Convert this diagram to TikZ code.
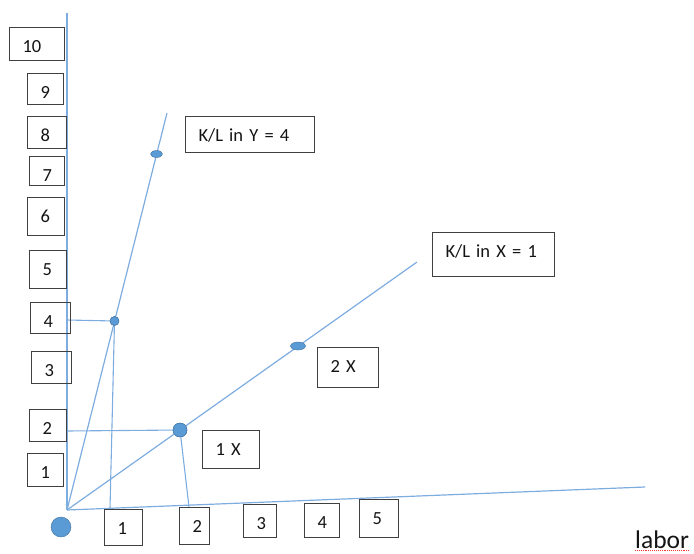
\documentclass[tikz,border=0pt]{standalone}
\usepackage{fontspec}
\setmainfont{Carlito}
\usetikzlibrary{shapes.geometric}
\definecolor{rayblue}{RGB}{125,172,224}
\definecolor{dotblue}{RGB}{91,155,213}
\definecolor{dotedge}{RGB}{65,113,156}
\definecolor{boxgray}{RGB}{64,64,64}
\tikzset{
  ray/.style={draw=rayblue, line width=1.2pt},
  guide/.style={draw=rayblue, line width=1.1pt},
  tbox/.style={draw=boxgray, line width=1.1pt, anchor=north west,
    inner xsep=13pt, inner ysep=0pt, text height=25pt, align=left,
    font=\fontsize{18.5}{22}\selectfont, text=black!92},
  dotc/.style={circle, fill=dotblue, draw=dotedge, line width=0.4pt, inner sep=0pt},
  dote/.style={ellipse, fill=dotblue, draw=dotedge, line width=0.4pt, inner sep=0pt},
}
\begin{document}
\begin{tikzpicture}[x=1pt, y=-1pt]
\useasboundingbox (0,0) rectangle (694,554);

% axes and rays
\coordinate (O) at (67,510);
\coordinate (ytop) at (67,13);
\coordinate (xend) at (645,487);
\coordinate (yray) at (167,113);
\coordinate (xray) at (417,262);
\draw[ray] (ytop) -- (O);
\draw[ray] (O) -- (xend);
\draw[ray] (O) -- (yray);
\draw[ray] (O) -- (xray);

% points on the rays
\node[dote, minimum width=12pt, minimum height=7pt] (py8) at (156.5,154) {};
\node[dotc, minimum size=9pt] (py4) at (114.5,321) {};
\node[dote, minimum width=15pt, minimum height=8pt] (px2) at (298,346) {};
\node[dotc, minimum size=14pt] (px1) at (180,430) {};
\node[dotc, minimum size=20pt] (orig) at (61,527) {};

% read-off lines to the axes
\coordinate (k4) at (67,320);
\coordinate (l1) at (110,509);
\coordinate (k2) at (67,431);
\coordinate (l2) at (189,507);
\draw[guide] (k4) -- (py4.center) -- (l1);
\draw[guide] (k2) -- (px1.center) -- (l2);
\node[dotc, minimum size=9pt] at (py4) {};
\node[dotc, minimum size=14pt] at (px1) {};

% capital axis labels
\node[tbox, text width=29pt, text depth=8pt]  (k10) at (9,27)  {10};
\node[tbox, text width=10pt, text depth=6pt]  (k9)  at (27,73) {9};
\node[tbox, text width=13pt, text depth=7pt]  (k8)  at (27,116) {8};
\node[tbox, text width=9pt,  text depth=4pt]  (k7)  at (29,156) {7};
\node[tbox, text width=11pt, text depth=13pt] (k6)  at (27,197) {6};
\node[tbox, text width=11pt, text depth=13pt] (k5)  at (29,250) {5};
\node[tbox, text width=14pt, text depth=6pt]  (k4b) at (30,302) {4};
\node[tbox, text width=14pt, text depth=7pt]  (k3)  at (31,351) {3};
\node[tbox, text width=11pt, text depth=7pt]  (k2b) at (29,409) {2};
\node[tbox, text width=10pt, text depth=8pt]  (k1)  at (27,453) {1};

% labor axis labels
\node[tbox, text width=12pt, text depth=11pt] (n1) at (104,509) {1};
\node[tbox, text width=4pt,  text depth=12pt] (n2) at (179,507) {2};
\node[tbox, text width=7pt,  text depth=8pt]  (n3) at (243,504) {3};
\node[tbox, text width=9pt,  text depth=9pt]  (n4) at (304,503) {4};
\node[tbox, text width=13pt, text depth=13pt] (n5) at (359,499) {5};

% ray and point labels
\node[tbox, text width=103pt, text depth=11pt] (ly) at (185,116) {K/L in Y = 4};
\node[tbox, text width=96pt,  text depth=19pt] (lx) at (432,232) {K/L in X = 1};
\node[tbox, text width=31pt,  text depth=13pt] (l1x) at (202,430) {1 X};
\node[tbox, text width=35pt,  text depth=15pt] (l2x) at (317,347) {2 X};

% axis title
\node[anchor=base west, inner sep=0pt, font=\fontsize{25.5}{28}\selectfont, text=black!92] (labor) at (635,548) {labor};
\draw[red!80, densely dotted, line width=0.9pt] ([yshift=-2.5pt]labor.base west) -- ([yshift=-2.5pt]labor.base east);
\end{tikzpicture}
\end{document}
